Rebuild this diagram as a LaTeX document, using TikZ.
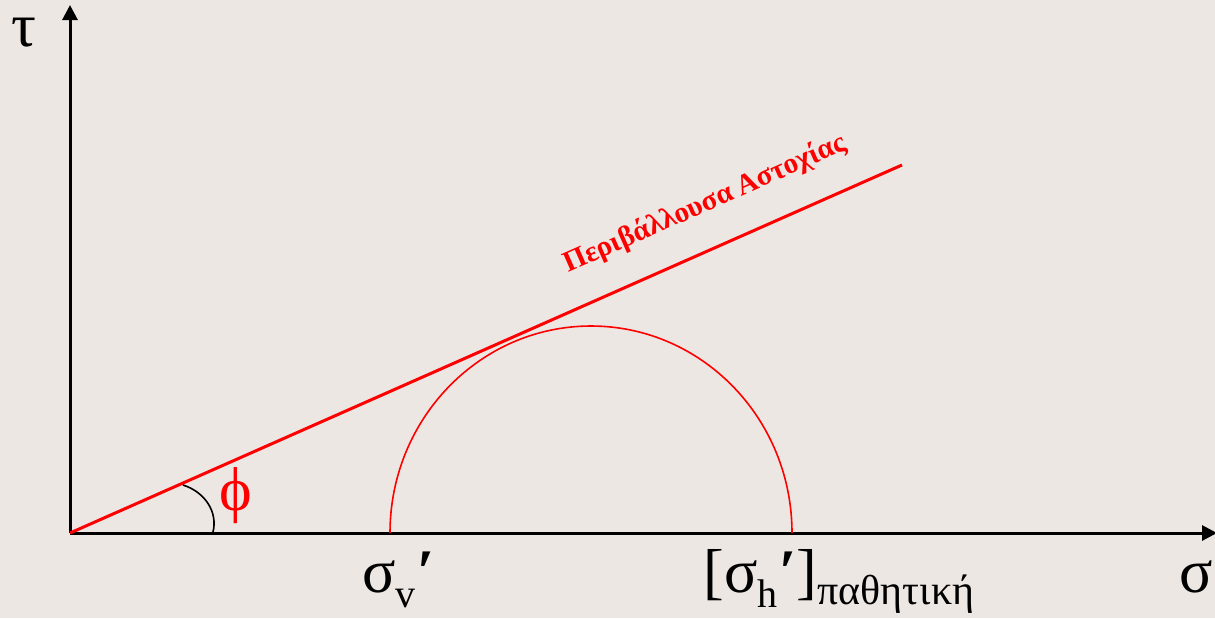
\documentclass[tikz,border=0pt]{standalone}
\usepackage{fontspec}
\setmainfont{Liberation Serif}
\usetikzlibrary{arrows.meta}
\definecolor{paper}{HTML}{ECE7E3}
\begin{document}
\begin{tikzpicture}[x=0.5pt, y=-0.5pt, >={Triangle[length=7.5pt, width=7.5pt]},
    axis/.style={line width=1.5pt},
    big/.style={inner sep=0pt, font=\fontsize{31}{31}\selectfont},
    sub/.style={font=\fontsize{20}{20}\selectfont}]
  \fill[paper] (0,0) rectangle (1215,618);
  \useasboundingbox (0,0) rectangle (1215,618);
  % axes
  \coordinate (O) at (70,533);
  \coordinate (ytop) at (70,5);
  \coordinate (xend) at (1217,533);
  \draw[axis,->] (O) -- (ytop);
  \draw[axis,->] (O) -- (xend);
  \node[big, anchor=base] (tau) at (24,46) {τ};
  \node[big, anchor=base west] (sigx) at (1179,592) {σ};
  % failure envelope
  \coordinate (envend) at (902,165);
  \draw[red, line width=1.5pt] (O) -- (envend);
  \node[anchor=base, rotate=23.86, red, inner sep=0pt, font=\fontsize{14.6}{14.6}\selectfont\bfseries] (envlabel) at (708,211) {Περιβάλλουσα Αστοχίας};
  % Mohr circle
  \coordinate (sv) at (390,533);
  \coordinate (sh) at (792,533);
  \draw[red, line width=0.8pt] (sv) arc[start angle=180, end angle=360, x radius=201, y radius=207];
  % angle phi
  \coordinate (phia) at (183,485);
  \coordinate (phib) at (213,532);
  \draw[line width=0.8pt] (phia) .. controls (205,492) and (218,512) .. (phib);
  \node[big, anchor=base, red] (phi) at (236,510) {ϕ};
  % labels on sigma axis
  \node[big, anchor=base west] (sigv) at (362,592) {σ\raisebox{-7.5pt}{\fontsize{20}{20}\selectfont v}\kern1pt\textbf{′}};
  \node[big, anchor=base west] (sigh) at (703,592) {[σ\raisebox{-7.5pt}{\fontsize{20}{20}\selectfont h}\kern1pt\textbf{′}]\raisebox{-6pt}{\fontsize{21}{21}\selectfont παθητική}};
\end{tikzpicture}
\end{document}
